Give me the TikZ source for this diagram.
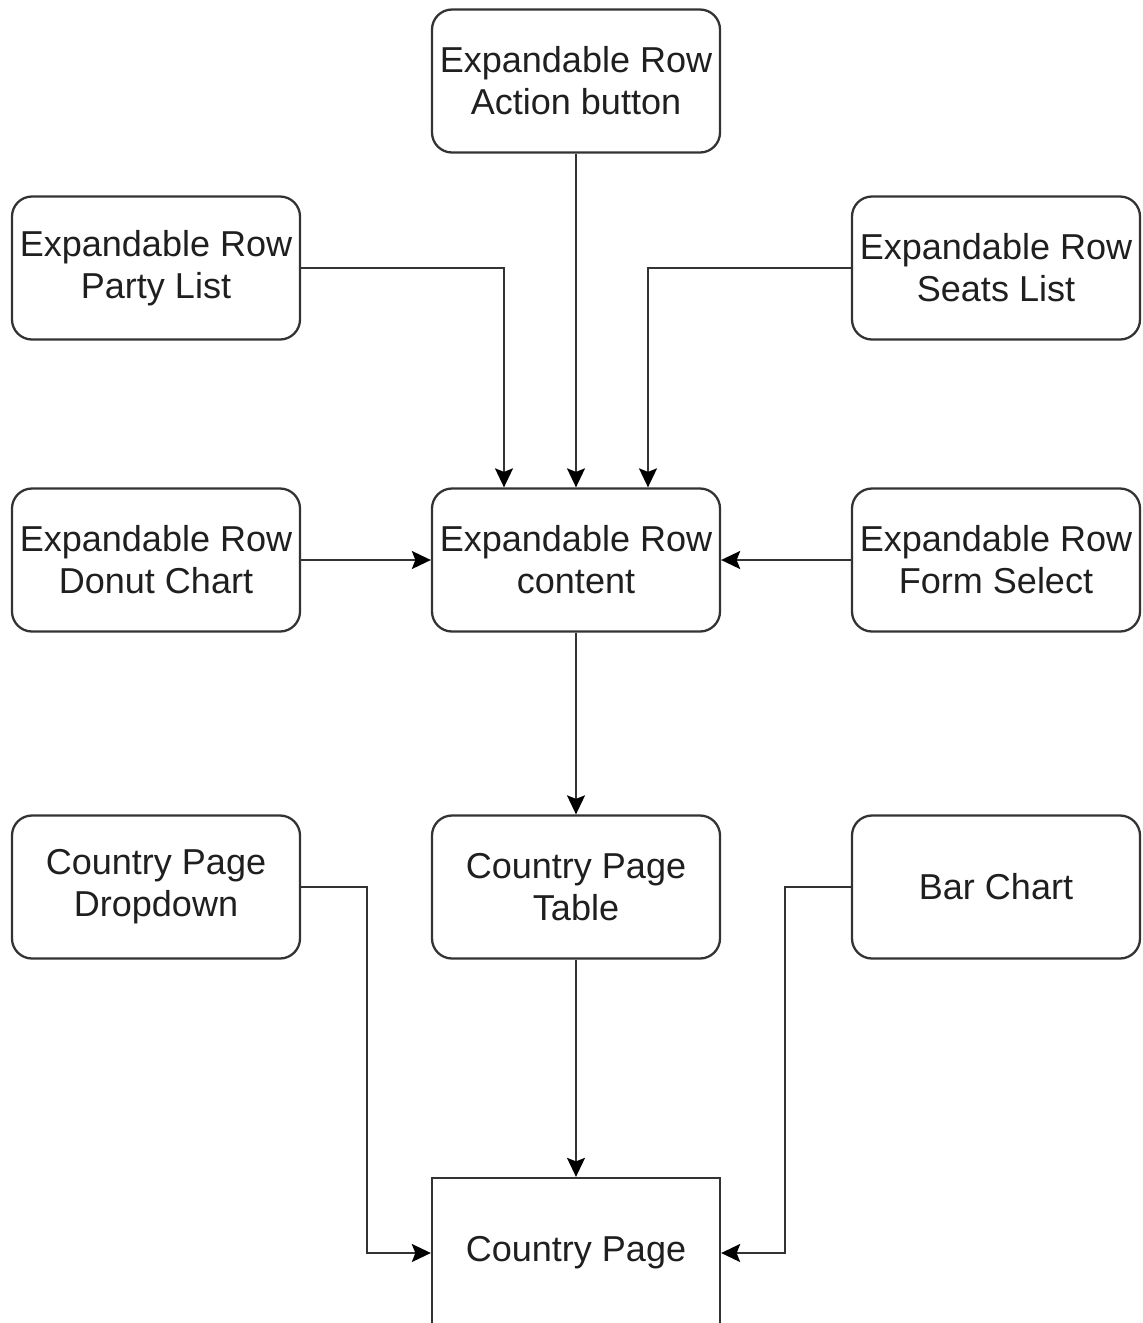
\documentclass[tikz,border=0pt]{standalone}
\usepackage{fontspec}
\setmainfont{Liberation Sans}
\usetikzlibrary{positioning,arrows.meta}

\begin{document}
\begin{tikzpicture}[
        bloco/.style={draw=black!80, line width=1.3pt, rounded corners=0.4cm,
            minimum width=5.76cm, minimum height=2.86cm, inner sep=0pt,
            align=center, text=black!88, font=\fontsize{20.5}{24}\selectfont},
        seta/.style={draw=black!80, line width=1.2pt,
            -{Stealth[length=0.38cm, width=0.36cm, inset=0.07cm, black]}}
    ]
        \useasboundingbox (0,0) rectangle (22.86,-26.46);

        % Linha de cima
        \node[bloco] (act) at (11.52,-1.62) {Expandable Row\\Action button};
        \node[bloco] (party) at (3.12,-5.36) {Expandable Row\\Party List};
        \node[bloco] (seats) at (19.92,-5.36) {Expandable Row\\Seats List};

        % Linha do meio
        \node[bloco] (donut) at (3.12,-11.20) {Expandable Row\\Donut Chart};
        \node[bloco] (content) at (11.52,-11.20) {Expandable Row\\content};
        \node[bloco] (form) at (19.92,-11.20) {Expandable Row\\Form Select};

        % Linha de baixo
        \node[bloco] (dropdown) at (3.12,-17.74) {Country Page\\Dropdown};
        \node[bloco] (table) at (11.52,-17.74) {Country Page\\Table};
        \node[bloco] (bar) at (19.92,-17.74) {Bar Chart};

        % Pagina
        \node[bloco, rounded corners=0pt, minimum height=3.0cm] (page) at (11.52,-25.06) {Country Page};

        % Setas para content
        \draw[seta] (party.east) -| ([xshift=-1.44cm]content.north);
        \draw[seta] (act) -- (content);
        \draw[seta] (seats.west) -| ([xshift=1.44cm]content.north);
        \draw[seta] (donut) -- (content);
        \draw[seta] (form) -- (content);

        % Setas para a pagina
        \draw[seta] (content) -- (table);
        \draw[seta] (table) -- (page);
        \draw[seta] (dropdown.east) -- ++(1.32,0) |- (page.west);
        \draw[seta] (bar.west) -- ++(-1.32,0) |- (page.east);
    \end{tikzpicture}
\end{document}
